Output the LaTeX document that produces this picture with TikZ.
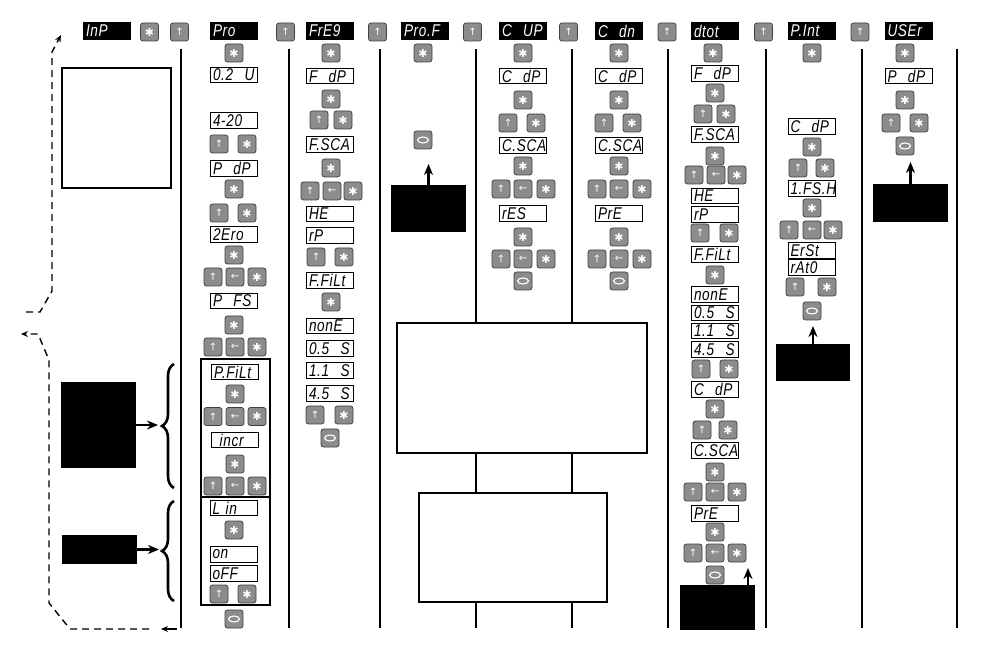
\documentclass[tikz,border=0pt]{standalone}
\usepackage{fontspec}
\usepackage{xcolor}
\usepackage{tikz}
\usetikzlibrary{arrows.meta,positioning,decorations.pathreplacing}
\newfontfamily\symfont{DejaVu Sans}
\newfontfamily\segfont[LetterSpace=4, FakeStretch=0.8]{Liberation Sans}
\definecolor{keygray}{HTML}{8C8C8C}

\begin{document}
\begin{tikzpicture}[
        x=1pt, y=-1pt,
        disp/.style={rectangle, draw=black, line width=0.8pt, fill=white, minimum width=47pt, minimum height=15.5pt, text width=42pt, inner xsep=2.5pt, inner ysep=0pt, align=left, font=\segfont\itshape\fontsize{17}{17}\selectfont},
        head/.style={disp, draw=none, fill=black, text=white, minimum width=48pt, minimum height=18pt},
        key/.style={rectangle, rounded corners=2.5pt, draw=black!75, line width=0.8pt, fill=keygray, minimum size=18pt, inner sep=0pt, text=white, font=\symfont\fontsize{10}{10}\selectfont},
        keyast/.style={key, node contents={\fontsize{11}{11}\selectfont ✱}},
        keyup/.style={key, node contents={↑}},
        keyleft/.style={key, node contents={←}},
        keyloop/.style={key, node contents={}, path picture={\draw[white, line width=1.1pt] (path picture bounding box.center) ellipse (5.5pt and 3pt);}},
        blackbox/.style={rectangle, fill=black, inner sep=0pt},
        framebox/.style={rectangle, draw=black, line width=1.8pt, inner sep=0pt},
        notebox/.style={rectangle, draw=black, line width=1.2pt, fill=white, inner sep=0pt},
        colline/.style={line width=1.6pt},
        arrow/.style={-{Stealth[length=11pt, width=9pt]}, line width=2.4pt},
        smallarrow/.style={-{Stealth[length=7pt, width=6pt]}, line width=1.4pt},
        dashpath/.style={dash pattern=on 7pt off 5pt},
        curly/.style={decorate, decoration={brace, amplitude=12pt}, line width=2.6pt}
    ]
    \useasboundingbox (0,0) rectangle (994,652);

    % column separators
    \foreach \x in {181,289,380,476,572,668,766,862,957}
        \draw[colline] (\x,49) -- (\x,628);

    % Header row
    \node[head] (h-inp) at (107,31) {InP};
    \node (h-inp-k1) at (149.5,32) [keyast];
    \node (h-inp-k2) at (179.5,32) [keyup];
    \node[head] (h-pro) at (234,31) {Pro};
    \node (h-pro-k) at (285.5,32) [keyup];
    \node[head] (h-freq) at (330,31) {FrE9};
    \node (h-freq-k) at (377.5,32) [keyup];
    \node[head] (h-prof) at (425,31) {Pro.F};
    \node (h-prof-k) at (472.5,32) [keyup];
    \node[head] (h-cup) at (523,31) {C\ \ UP};
    \node (h-cup-k) at (568.5,32) [keyup];
    \node[head] (h-cdn) at (619,31) {C\ \ dn};
    \node (h-cdn-k) at (667,32) [keyup];
    \node[head] (h-dtot) at (715,31) {dtot};
    \node (h-dtot-k) at (763.5,32) [keyup];
    \node[head] (h-pint) at (811.5,31) {P.Int};
    \node (h-pint-k) at (860,32) [keyup];
    \node[head] (h-user) at (908.5,31) {USEr};

    % InP column (notes on the left)
    \node[framebox, minimum width=109pt, minimum height=120pt] (inp-note) at (116.5,128) {};
    \node[blackbox, minimum width=75pt, minimum height=86pt] (inp-box1) at (98.5,425) {};
    \node[blackbox, minimum width=75pt, minimum height=29pt] (inp-box2) at (99.5,549.5) {};
    \coordinate (br1) at (158,425);
    \coordinate (br2) at (159,549.5);
    \draw[arrow] (inp-box1.east) -- (br1);
    \draw[arrow] (inp-box2.east) -- (br2);
    \draw[curly] (174,488) -- (174,364);
    \draw[curly] (174,601) -- (174,501);

    % return loops
    \coordinate (lp1s) at (26,312);
    \coordinate (lp1e) at (61,35);
    \draw[dashpath, smallarrow] (lp1s) -- (40,312) -- (52,291) -- (52,52) -- (lp1e);
    \coordinate (lp2s) at (177,629);
    \coordinate (lp2a) at (161,629);
    \coordinate (lp2e) at (21,334);
    \draw[smallarrow] (lp2s) -- (lp2a);
    \draw[dashpath, smallarrow] (149,629) -- (70,629) -- (49,603) -- (49,360) -- (38,334) -- (lp2e);

    % Pro column
    \node (pro-k1) at (234,53) [keyast];
    \node[disp] (pro-d1) at (234,75) {0.2\ \ U};
    \node[disp] (pro-d2) at (234,120.5) {4-20};
    \node (pro-k2) at (219,144) [keyup];
    \node (pro-k3) at (247,144) [keyast];
    \node[disp] (pro-d3) at (234,168.5) {P\ \ dP};
    \node (pro-k4) at (234,189) [keyast];
    \node (pro-k5) at (219,213) [keyup];
    \node (pro-k6) at (247,213) [keyast];
    \node[disp] (pro-d4) at (234,234.5) {2Ero};
    \node (pro-k7) at (234,255) [keyast];
    \node (pro-k8) at (213,277) [keyup];
    \node (pro-k9) at (235,277) [keyleft];
    \node (pro-k10) at (257,277) [keyast];
    \node[disp] (pro-d5) at (234,301) {P\ \ FS};
    \node (pro-k11) at (234,325) [keyast];
    \node (pro-k12) at (213,347) [keyup];
    \node (pro-k13) at (235,347) [keyleft];
    \node (pro-k14) at (257,347) [keyast];
    \node[framebox, minimum width=69pt, minimum height=138pt] (pro-frame1) at (235.5,428) {};
    \node[disp] (pro-d6) at (235,372) {P.FiLt};
    \node (pro-k15) at (235,394) [keyast];
    \node (pro-k16) at (213,416.5) [keyup];
    \node (pro-k17) at (235,416.5) [keyleft];
    \node (pro-k18) at (257,416.5) [keyast];
    \node[disp] (pro-d7) at (235,440) {\ incr};
    \node (pro-k19) at (235,464) [keyast];
    \node (pro-k20) at (213,486) [keyup];
    \node (pro-k21) at (235,486) [keyleft];
    \node (pro-k22) at (257,486) [keyast];
    \node[framebox, minimum width=69pt, minimum height=108pt] (pro-frame2) at (235.5,551) {};
    \node[disp] (pro-d8) at (233.5,508) {L\ in};
    \node (pro-k23) at (234,530) [keyast];
    \node[disp] (pro-d9) at (233.5,554.5) {on};
    \node[disp] (pro-d10) at (233.5,573.5) {oFF};
    \node (pro-k24) at (219,594) [keyup];
    \node (pro-k25) at (247,594) [keyast];
    \node (pro-k26) at (234,619) [keyloop];

    % FrEq column
    \node (freq-k1) at (331,53) [keyast];
    \node[disp] (freq-d1) at (330,76) {F\ \ dP};
    \node (freq-k2) at (331,99) [keyast];
    \node (freq-k3) at (319,120) [keyup];
    \node (freq-k4) at (343,120) [keyast];
    \node[disp] (freq-d2) at (330,144.5) {F.SCA};
    \node (freq-k5) at (331,168) [keyast];
    \node (freq-k6) at (310,191) [keyup];
    \node (freq-k7) at (332,191) [keyleft];
    \node (freq-k8) at (353,191) [keyast];
    \node[disp] (freq-d3) at (330,214) {HE};
    \node[disp] (freq-d4) at (330,235.5) {rP};
    \node (freq-k9) at (316,257) [keyup];
    \node (freq-k10) at (344,257) [keyast];
    \node[disp] (freq-d5) at (330,280.5) {F.FiLt};
    \node (freq-k11) at (331,302) [keyast];
    \node[disp] (freq-d6) at (330,326) {nonE};
    \node[disp] (freq-d7) at (330,348.5) {0.5\ \ S};
    \node[disp] (freq-d8) at (330,370.5) {1.1\ \ S};
    \node[disp] (freq-d9) at (330,393.5) {4.5\ \ S};
    \node (freq-k12) at (315,415) [keyup];
    \node (freq-k13) at (344,415) [keyast];
    \node (freq-k14) at (330,438) [keyloop];

    % ProF column
    \node (prof-k1) at (423,53) [keyast];
    \node (prof-k2) at (423,140) [keyloop];
    \node[blackbox, minimum width=75pt, minimum height=47pt] (prof-box) at (428.5,208.5) {};
    \coordinate (prof-tip) at (428.5,164);
    \draw[arrow] (prof-box.north) -- (prof-tip);

    % C UP column
    \node (cup-k1) at (523,53) [keyast];
    \node[disp] (cup-d1) at (523,76) {C\ \ dP};
    \node (cup-k2) at (523,100) [keyast];
    \node (cup-k3) at (508,123) [keyup];
    \node (cup-k4) at (536,123) [keyast];
    \node[disp] (cup-d2) at (523,145.5) {C.SCA};
    \node (cup-k5) at (523,166) [keyast];
    \node (cup-k6) at (501,189) [keyup];
    \node (cup-k7) at (523,189) [keyleft];
    \node (cup-k8) at (546,189) [keyast];
    \node[disp] (cup-d3) at (523,213.5) {rES};
    \node (cup-k9) at (523,237) [keyast];
    \node (cup-k10) at (501,259) [keyup];
    \node (cup-k11) at (523,259) [keyleft];
    \node (cup-k12) at (546,259) [keyast];
    \node (cup-k13) at (523,281) [keyloop];

    % C dn column
    \node (cdn-k1) at (619,53) [keyast];
    \node[disp] (cdn-d1) at (619,76) {C\ \ dP};
    \node (cdn-k2) at (619,100) [keyast];
    \node (cdn-k3) at (604,123) [keyup];
    \node (cdn-k4) at (632,123) [keyast];
    \node[disp] (cdn-d2) at (619,145.5) {C.SCA};
    \node (cdn-k5) at (619,166) [keyast];
    \node (cdn-k6) at (597,189) [keyup];
    \node (cdn-k7) at (619,189) [keyleft];
    \node (cdn-k8) at (642,189) [keyast];
    \node[disp] (cdn-d3) at (619,213.5) {PrE};
    \node (cdn-k9) at (619,237) [keyast];
    \node (cdn-k10) at (597,259) [keyup];
    \node (cdn-k11) at (619,259) [keyleft];
    \node (cdn-k12) at (642,259) [keyast];
    \node (cdn-k13) at (619,281) [keyloop];

    % notes across C UP / C dn
    \node[notebox, minimum width=250pt, minimum height=130pt] (note1) at (522,388) {};
    \node[notebox, minimum width=188pt, minimum height=109pt] (note2) at (513,547.5) {};

    % dtot column
    \node (dtot-k1) at (713,53) [keyast];
    \node[disp] (dtot-d1) at (715,73.5) {F\ \ dP};
    \node (dtot-k2) at (715,93) [keyast];
    \node (dtot-k3) at (703,114) [keyup];
    \node (dtot-k4) at (726,114) [keyast];
    \node[disp] (dtot-d2) at (715,134.5) {F.SCA};
    \node (dtot-k5) at (715,156) [keyast];
    \node (dtot-k6) at (694,175) [keyup];
    \node (dtot-k7) at (716,175) [keyleft];
    \node (dtot-k8) at (737,175) [keyast];
    \node[disp] (dtot-d3) at (715,196) {HE};
    \node[disp] (dtot-d4) at (715,214.5) {rP};
    \node (dtot-k9) at (700,233) [keyup];
    \node (dtot-k10) at (729,233) [keyast];
    \node[disp] (dtot-d5) at (715,254.5) {F.FiLt};
    \node (dtot-k11) at (715,275) [keyast];
    \node[disp] (dtot-d6) at (715,294.5) {nonE};
    \node[disp] (dtot-d7) at (715,313) {0.5\ \ S};
    \node[disp] (dtot-d8) at (715,331) {1.1\ \ S};
    \node[disp] (dtot-d9) at (715,349.5) {4.5\ \ S};
    \node (dtot-k12) at (701,369) [keyup];
    \node (dtot-k13) at (729,369) [keyast];
    \node[disp] (dtot-d10) at (715,389.5) {C\ \ dP};
    \node (dtot-k14) at (715,409) [keyast];
    \node (dtot-k15) at (702,430) [keyup];
    \node (dtot-k16) at (728,430) [keyast];
    \node[disp] (dtot-d11) at (715,450.5) {C.SCA};
    \node (dtot-k17) at (715,472) [keyast];
    \node (dtot-k18) at (693,492) [keyup];
    \node (dtot-k19) at (715,492) [keyleft];
    \node (dtot-k20) at (737,492) [keyast];
    \node[disp] (dtot-d12) at (715,513.5) {PrE};
    \node (dtot-k21) at (715,532) [keyast];
    \node (dtot-k22) at (693,553) [keyup];
    \node (dtot-k23) at (715,553) [keyleft];
    \node (dtot-k24) at (737,553) [keyast];
    \node (dtot-k25) at (715,575) [keyloop];
    \node[blackbox, minimum width=75pt, minimum height=45pt] (dtot-box) at (717.5,607.5) {};
    \coordinate (dtot-tip) at (748,568);
    \draw[arrow] (dtot-box.north -| dtot-tip) -- (dtot-tip);

    % P.Int column
    \node (pint-k1) at (812,53) [keyast];
    \node[disp] (pint-d1) at (811.5,126.5) {C\ \ dP};
    \node (pint-k2) at (812,147) [keyast];
    \node (pint-k3) at (798,168) [keyup];
    \node (pint-k4) at (825,168) [keyast];
    \node[disp] (pint-d2) at (811.5,188.5) {1.FS.H};
    \node (pint-k5) at (812,208) [keyast];
    \node (pint-k6) at (789,230) [keyup];
    \node (pint-k7) at (812,230) [keyleft];
    \node (pint-k8) at (833,230) [keyast];
    \node[disp] (pint-d3) at (811.5,250.5) {ErSt};
    \node[disp] (pint-d4) at (811.5,267.5) {rAt0};
    \node (pint-k9) at (795,287) [keyup];
    \node (pint-k10) at (827,287) [keyast];
    \node (pint-k11) at (812,311) [keyloop];
    \node[blackbox, minimum width=74pt, minimum height=37pt] (pint-box) at (813,362.5) {};
    \coordinate (pint-tip) at (813,326);
    \draw[arrow] (pint-box.north) -- (pint-tip);

    % USEr column
    \node (user-k1) at (905,53) [keyast];
    \node[disp] (user-d1) at (908.5,76) {P\ \ dP};
    \node (user-k2) at (905,100) [keyast];
    \node (user-k3) at (891,123) [keyup];
    \node (user-k4) at (919,123) [keyast];
    \node (user-k5) at (905,146) [keyloop];
    \node[blackbox, minimum width=75pt, minimum height=38pt] (user-box) at (910.5,203) {};
    \coordinate (user-tip) at (910.5,162);
    \draw[arrow] (user-box.north) -- (user-tip);

\end{tikzpicture}
\end{document}
